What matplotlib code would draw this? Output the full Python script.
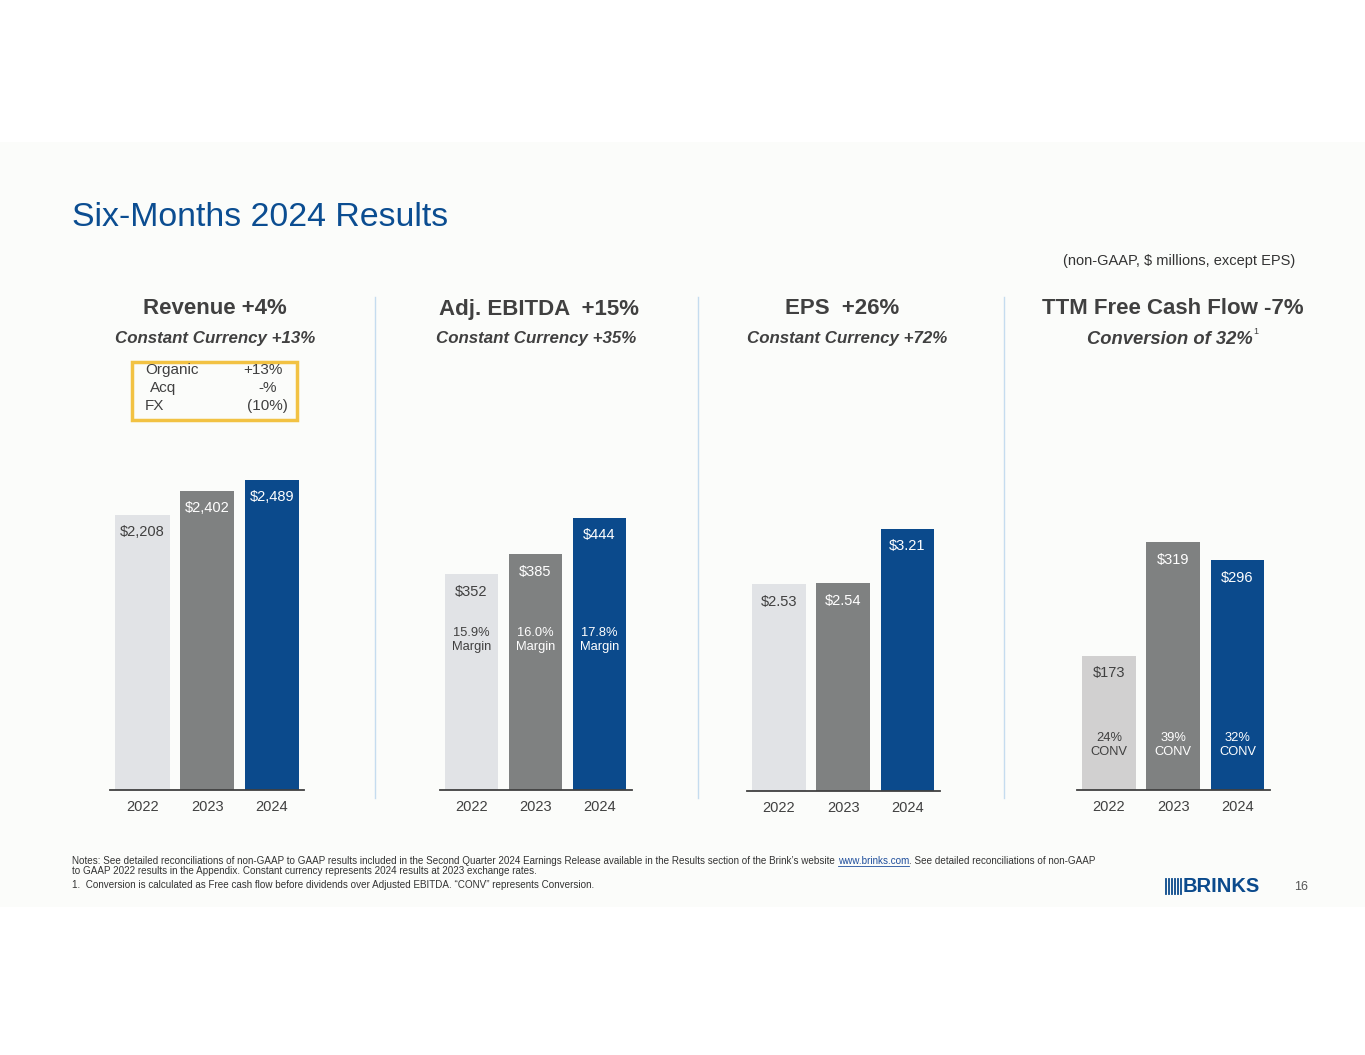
import matplotlib
matplotlib.use("Agg")
import matplotlib.pyplot as plt
from matplotlib.patches import Rectangle
from matplotlib.lines import Line2D
from matplotlib.transforms import blended_transform_factory

plt.rcParams['font.family'] = ['Liberation Sans', 'DejaVu Sans']

# data
years = ["2022", "2023", "2024"]
revenue = [2208, 2402, 2489]
revenue_labels = ["$2,208", "$2,402", "$2,489"]
ebitda = [352, 385, 444]
ebitda_labels = ["$352", "$385", "$444"]
ebitda_margin = ["15.9%", "16.0%", "17.8%"]
eps = [2.53, 2.54, 3.21]
eps_labels = ["$2.53", "$2.54", "$3.21"]
fcf = [173, 319, 296]
fcf_labels = ["$173", "$319", "$296"]
fcf_conv = ["24%", "39%", "32%"]

LIGHT = "#E1E3E6"
GRAY = "#7F8181"
BLUE = "#0B4A8C"
DARK = "#404040"

W, H = 1365, 1055
fig = plt.figure(figsize=(W / 100, H / 100), dpi=100)
fig.patch.set_facecolor("white")


def fx(x):
    return x / W


def fy(y):
    return 1 - y / H


def ft(x, y, s, **kw):
    return fig.text(fx(x), fy(y), s, **kw)


# slide background
fig.add_artist(Rectangle((0, fy(907)), 1, (907 - 142) / H, transform=fig.transFigure,
                         facecolor="#FBFCFA", edgecolor="none", zorder=-10))

ft(72, 218, "Six-Months 2024 Results", fontsize=24.4, color="#0B4D91", va="center", ha="left")
ft(1295, 261, "(non-GAAP, $ millions, except EPS)", fontsize=10.5, color="#333333",
   va="center", ha="right")

# dividers
for xd in [375, 698, 1004]:
    fig.add_artist(Line2D([fx(xd), fx(xd)], [fy(297), fy(798)], transform=fig.transFigure,
                          color="#C5DCEF", lw=1))

# panel headers
heads = [(215, "Revenue +4%", "Constant Currency +13%"),
         (539, "Adj. EBITDA  +15%", "Constant Currency +35%"),
         (842, "EPS  +26%", "Constant Currency +72%"),
         (1173, "TTM Free Cash Flow -7%", None)]
sub_x = [215, 536, 847]
for (xc, h, s), sx in zip(heads, sub_x + [None]):
    ft(xc, 309, h, fontsize=16, fontweight="bold", color=DARK, ha="center", va="center")
    if s:
        ft(sx, 339, s, fontsize=12.2, fontweight="bold", style="italic", color=DARK,
           ha="center", va="center")
conv = ft(1087, 339, "Conversion of 32%", fontsize=13.2, fontweight="bold", style="italic",
          color=DARK, ha="left", va="center")
fig.canvas.draw()
cb = conv.get_window_extent()
fig.text((cb.x1 + 1) / W, fy(332), "1", fontsize=6.5, color=DARK, ha="left", va="center")

# yellow box
fig.add_artist(Rectangle((fx(132), fy(420)), (297 - 132) / W, (420 - 362) / H,
                         transform=fig.transFigure, facecolor="none",
                         edgecolor="#F2C243", lw=2.5))
box_rows = [("Organic", 145, "+13%", 283, 370),
            ("Acq", 150, "-%", 277, 388),
            ("FX", 145, "(10%)", 288, 406)]
for lab, lx, val, vx, yy in box_rows:
    ft(lx, yy, lab, fontsize=11, color=DARK, ha="left", va="center")
    ft(vx, yy, val, fontsize=11, color=DARK, ha="right", va="center")


def panel(c0, sp, base, top_val, values, labels, colors, txtcolors, inner=None, inner_y=None):
    ax = fig.add_axes([fx(c0 - sp / 2), fy(base), 3 * sp / W, (base - 440) / H])
    ax.set_facecolor("none")
    ax.bar(range(3), values, width=0.835, color=colors, zorder=2)
    ax.set_xlim(-0.5, 2.5)
    ax.set_ylim(0, top_val)
    for s in ["top", "right", "left"]:
        ax.spines[s].set_visible(False)
    ax.spines["bottom"].set_color(DARK)
    ax.spines["bottom"].set_linewidth(1.3)
    ax.set_yticks([])
    ax.set_xticks(range(3))
    ax.set_xticklabels(years, fontsize=10.5, color=DARK)
    ax.tick_params(axis="x", length=0, pad=7)
    for i, (v, lab) in enumerate(zip(values, labels)):
        ax.annotate(lab, xy=(i, v), xytext=(0, -12.5), textcoords="offset points",
                    ha="center", va="center", fontsize=10.5, color=txtcolors[i])
    if inner:
        tr = blended_transform_factory(ax.transData, ax.transAxes)
        for i, t in enumerate(inner):
            ax.text(i, inner_y, t, transform=tr, ha="center", va="center",
                    fontsize=9.3, color=txtcolors[i], linespacing=1.15)
    return ax


tc = [DARK, "white", "white"]
panel(142.5, 64.75, 790, 2810, revenue, revenue_labels, [LIGHT, GRAY, BLUE], tc)
panel(471.5, 64.0, 790, 571.5, ebitda, ebitda_labels, [LIGHT, GRAY, BLUE], tc,
      [m + "\nMargin" for m in ebitda_margin], (790 - 640) / 350)
panel(779, 64.25, 791, 4.295, eps, eps_labels, [LIGHT, GRAY, BLUE], tc)
panel(1109, 64.25, 790, 451, fcf, fcf_labels, ["#D1D0D0", GRAY, BLUE], tc,
      [c + "\nCONV" for c in fcf_conv], (790 - 745) / 350)

# footnotes
FN = 7.1
note1 = ("Notes: See detailed reconciliations of non-GAAP to GAAP results included in the Second "
         "Quarter 2024 Earnings Release available in the Results section of the Brink\u2019s website ")
t1 = ft(72, 861, note1, fontsize=FN, color="#333333", ha="left", va="center")
fig.canvas.draw()
bb = t1.get_window_extent()
link = fig.text(bb.x1 / W, fy(861), "www.brinks.com", fontsize=FN, color="#1F4E9C",
                ha="left", va="center")
fig.canvas.draw()
bl = link.get_window_extent()
fig.add_artist(Line2D([bl.x0 / W, bl.x1 / W], [(bl.y0 + 0.5) / H, (bl.y0 + 0.5) / H],
                      transform=fig.transFigure, color="#1F4E9C", lw=0.6))
fig.text(bl.x1 / W, fy(861), ". See detailed reconciliations of non-GAAP", fontsize=FN,
         color="#333333", ha="left", va="center")
ft(72, 871, "to GAAP 2022 results in the Appendix. Constant currency represents 2024 results at "
   "2023 exchange rates.", fontsize=FN, color="#333333", ha="left", va="center")
ft(72, 885, "1.  Conversion is calculated as Free cash flow before dividends over Adjusted EBITDA. "
   "\u201cCONV\u201d represents Conversion.", fontsize=FN, color="#333333", ha="left", va="center")

# logo
for k in range(6):
    xl = 1166 + k * 3
    fig.add_artist(Line2D([fx(xl), fx(xl)], [fy(879), fy(894)], transform=fig.transFigure,
                          color="#0B4A8C", lw=1.3))
ft(1183, 887, "BRINKS", fontsize=14.5, fontweight="bold", color="#0B4A8C", ha="left",
   va="center", family=["Liberation Sans Narrow", "Liberation Sans"])
ft(1301, 887, "16", fontsize=9, color="#555555", ha="center", va="center")

fig.savefig("out.png", dpi=100, facecolor=fig.get_facecolor())
